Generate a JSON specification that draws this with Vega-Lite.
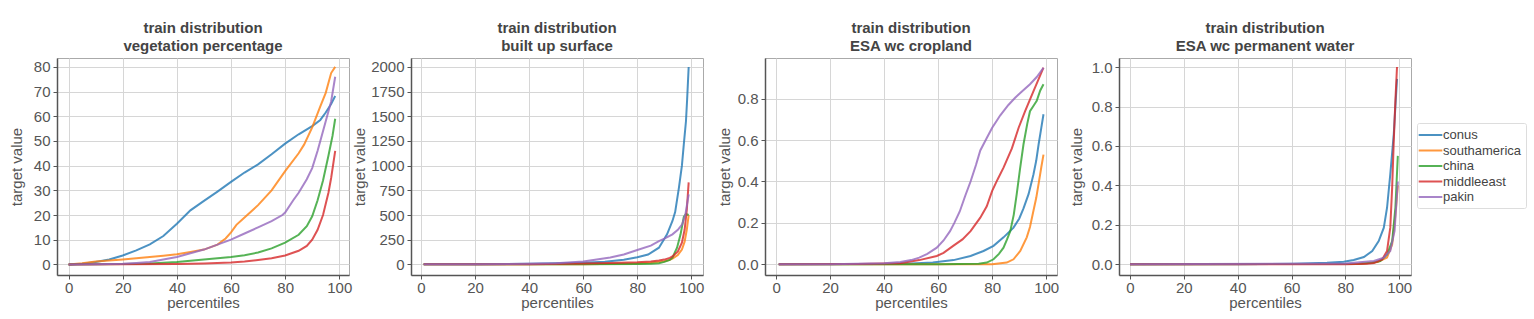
{
  "$schema": "https://vega.github.io/schema/vega-lite/v6.json",
  "padding": {"left": 8, "top": 20, "right": 5, "bottom": 5},
  "background": "white",
  "config": {
    "font": "Liberation Sans",
    "view": {"stroke": "#aaaaaa", "strokeWidth": 1},
    "axis": {
      "labelFont": "Liberation Sans", "labelFontSize": 15, "labelColor": "#555555",
      "titleFont": "Liberation Sans", "titleFontSize": 15, "titleFontWeight": "normal", "titleColor": "#555555",
      "gridColor": "#d6d6d6", "gridWidth": 1,
      "domainColor": "#555555", "domainWidth": 1.5,
      "tickColor": "#555555", "tickSize": 4, "labelPadding": 3
    },
    "axisX": {"labelPadding": 1, "titlePadding": 0.5},
    "title": {"font": "Liberation Sans", "fontSize": 15, "fontWeight": "bold", "color": "#444444", "lineHeight": 18, "offset": 4},
    "legend": {
      "labelFont": "Liberation Sans", "labelFontSize": 13, "labelColor": "#444444",
      "strokeColor": "#dddddd", "padding": 4, "cornerRadius": 2,
      "symbolType": "M-1.75,0H1.75", "symbolSize": 182, "symbolStrokeWidth": 2, "symbolOffset": 1.5,
      "rowPadding": 0.5, "labelOffset": 4.5,
      "orient": "none", "legendX": 1360, "legendY": 65
    }
  },
  "datasets": {
    "d": [
      {"g":"veg","r":"conus","p":0,"v":0},{"g":"veg","r":"conus","p":5,"v":0.3},{"g":"veg","r":"conus","p":10,"v":1},{"g":"veg","r":"conus","p":15,"v":2},{"g":"veg","r":"conus","p":20,"v":3.6},{"g":"veg","r":"conus","p":25,"v":5.7},{"g":"veg","r":"conus","p":30,"v":8.1},{"g":"veg","r":"conus","p":35,"v":11.5},{"g":"veg","r":"conus","p":40,"v":16.5},{"g":"veg","r":"conus","p":45,"v":21.9},{"g":"veg","r":"conus","p":50,"v":25.7},{"g":"veg","r":"conus","p":55,"v":29.5},{"g":"veg","r":"conus","p":60,"v":33.4},{"g":"veg","r":"conus","p":65,"v":37.2},{"g":"veg","r":"conus","p":70,"v":40.5},{"g":"veg","r":"conus","p":75,"v":44.6},{"g":"veg","r":"conus","p":80,"v":48.9},{"g":"veg","r":"conus","p":85,"v":52.7},{"g":"veg","r":"conus","p":90,"v":56},{"g":"veg","r":"conus","p":93,"v":58.5},{"g":"veg","r":"conus","p":95,"v":61.5},{"g":"veg","r":"conus","p":97,"v":65},{"g":"veg","r":"conus","p":98.5,"v":68.2},
      {"g":"veg","r":"southamerica","p":0,"v":0},{"g":"veg","r":"southamerica","p":5,"v":0.5},{"g":"veg","r":"southamerica","p":10,"v":1.2},{"g":"veg","r":"southamerica","p":15,"v":1.6},{"g":"veg","r":"southamerica","p":20,"v":2},{"g":"veg","r":"southamerica","p":25,"v":2.5},{"g":"veg","r":"southamerica","p":30,"v":3},{"g":"veg","r":"southamerica","p":35,"v":3.5},{"g":"veg","r":"southamerica","p":40,"v":4.1},{"g":"veg","r":"southamerica","p":45,"v":5},{"g":"veg","r":"southamerica","p":50,"v":6},{"g":"veg","r":"southamerica","p":55,"v":8},{"g":"veg","r":"southamerica","p":58,"v":10.5},{"g":"veg","r":"southamerica","p":60,"v":13},{"g":"veg","r":"southamerica","p":62,"v":16},{"g":"veg","r":"southamerica","p":65,"v":19},{"g":"veg","r":"southamerica","p":70,"v":24},{"g":"veg","r":"southamerica","p":75,"v":30},{"g":"veg","r":"southamerica","p":80,"v":37.8},{"g":"veg","r":"southamerica","p":85,"v":45},{"g":"veg","r":"southamerica","p":87,"v":48.5},{"g":"veg","r":"southamerica","p":90,"v":55.5},{"g":"veg","r":"southamerica","p":93,"v":64},{"g":"veg","r":"southamerica","p":95,"v":69.5},{"g":"veg","r":"southamerica","p":97,"v":77.5},{"g":"veg","r":"southamerica","p":98.5,"v":80},
      {"g":"veg","r":"china","p":0,"v":0},{"g":"veg","r":"china","p":10,"v":0.1},{"g":"veg","r":"china","p":20,"v":0.2},{"g":"veg","r":"china","p":30,"v":0.4},{"g":"veg","r":"china","p":40,"v":1},{"g":"veg","r":"china","p":50,"v":2},{"g":"veg","r":"china","p":60,"v":3},{"g":"veg","r":"china","p":65,"v":3.7},{"g":"veg","r":"china","p":70,"v":4.8},{"g":"veg","r":"china","p":75,"v":6.5},{"g":"veg","r":"china","p":80,"v":8.8},{"g":"veg","r":"china","p":85,"v":12},{"g":"veg","r":"china","p":88,"v":15.5},{"g":"veg","r":"china","p":90,"v":19.5},{"g":"veg","r":"china","p":92,"v":26},{"g":"veg","r":"china","p":94,"v":34},{"g":"veg","r":"china","p":96,"v":44},{"g":"veg","r":"china","p":97.5,"v":52},{"g":"veg","r":"china","p":98.5,"v":59},
      {"g":"veg","r":"middleeast","p":0,"v":0},{"g":"veg","r":"middleeast","p":20,"v":0.05},{"g":"veg","r":"middleeast","p":40,"v":0.2},{"g":"veg","r":"middleeast","p":50,"v":0.4},{"g":"veg","r":"middleeast","p":60,"v":0.8},{"g":"veg","r":"middleeast","p":65,"v":1.2},{"g":"veg","r":"middleeast","p":70,"v":1.8},{"g":"veg","r":"middleeast","p":75,"v":2.5},{"g":"veg","r":"middleeast","p":80,"v":3.6},{"g":"veg","r":"middleeast","p":85,"v":5.5},{"g":"veg","r":"middleeast","p":88,"v":7.5},{"g":"veg","r":"middleeast","p":90,"v":10},{"g":"veg","r":"middleeast","p":92,"v":14},{"g":"veg","r":"middleeast","p":94,"v":20},{"g":"veg","r":"middleeast","p":96,"v":29},{"g":"veg","r":"middleeast","p":97,"v":35},{"g":"veg","r":"middleeast","p":98.5,"v":46},
      {"g":"veg","r":"pakin","p":0,"v":0},{"g":"veg","r":"pakin","p":10,"v":0.1},{"g":"veg","r":"pakin","p":20,"v":0.3},{"g":"veg","r":"pakin","p":25,"v":0.6},{"g":"veg","r":"pakin","p":30,"v":1},{"g":"veg","r":"pakin","p":35,"v":2},{"g":"veg","r":"pakin","p":40,"v":3},{"g":"veg","r":"pakin","p":45,"v":4.5},{"g":"veg","r":"pakin","p":50,"v":6},{"g":"veg","r":"pakin","p":55,"v":8},{"g":"veg","r":"pakin","p":60,"v":10},{"g":"veg","r":"pakin","p":65,"v":12.5},{"g":"veg","r":"pakin","p":70,"v":15},{"g":"veg","r":"pakin","p":75,"v":17.5},{"g":"veg","r":"pakin","p":79,"v":20},{"g":"veg","r":"pakin","p":80,"v":21},{"g":"veg","r":"pakin","p":83,"v":26},{"g":"veg","r":"pakin","p":85,"v":29},{"g":"veg","r":"pakin","p":88,"v":34.5},{"g":"veg","r":"pakin","p":90,"v":39},{"g":"veg","r":"pakin","p":92,"v":46},{"g":"veg","r":"pakin","p":93,"v":50},{"g":"veg","r":"pakin","p":95,"v":58},{"g":"veg","r":"pakin","p":97,"v":66},{"g":"veg","r":"pakin","p":98.5,"v":76},

      {"g":"bu","r":"conus","p":1,"v":0},{"g":"bu","r":"conus","p":20,"v":1},{"g":"bu","r":"conus","p":40,"v":5},{"g":"bu","r":"conus","p":50,"v":10},{"g":"bu","r":"conus","p":60,"v":17},{"g":"bu","r":"conus","p":68,"v":27},{"g":"bu","r":"conus","p":75,"v":47},{"g":"bu","r":"conus","p":80,"v":72},{"g":"bu","r":"conus","p":84,"v":100},{"g":"bu","r":"conus","p":88,"v":169},{"g":"bu","r":"conus","p":91,"v":304},{"g":"bu","r":"conus","p":93,"v":440},{"g":"bu","r":"conus","p":94,"v":530},{"g":"bu","r":"conus","p":95.4,"v":777},{"g":"bu","r":"conus","p":96.5,"v":1000},{"g":"bu","r":"conus","p":97.2,"v":1216},{"g":"bu","r":"conus","p":98,"v":1450},{"g":"bu","r":"conus","p":98.4,"v":1655},{"g":"bu","r":"conus","p":99,"v":2000},
      {"g":"bu","r":"southamerica","p":1,"v":0},{"g":"bu","r":"southamerica","p":60,"v":2},{"g":"bu","r":"southamerica","p":80,"v":8},{"g":"bu","r":"southamerica","p":85,"v":15},{"g":"bu","r":"southamerica","p":88,"v":25},{"g":"bu","r":"southamerica","p":90,"v":32},{"g":"bu","r":"southamerica","p":92,"v":45},{"g":"bu","r":"southamerica","p":93,"v":58},{"g":"bu","r":"southamerica","p":95,"v":95},{"g":"bu","r":"southamerica","p":96.5,"v":150},{"g":"bu","r":"southamerica","p":97.5,"v":230},{"g":"bu","r":"southamerica","p":98.3,"v":350},{"g":"bu","r":"southamerica","p":99,"v":500},
      {"g":"bu","r":"china","p":1,"v":0},{"g":"bu","r":"china","p":60,"v":1},{"g":"bu","r":"china","p":80,"v":3},{"g":"bu","r":"china","p":85,"v":6},{"g":"bu","r":"china","p":88,"v":12},{"g":"bu","r":"china","p":90,"v":25},{"g":"bu","r":"china","p":92,"v":45},{"g":"bu","r":"china","p":93,"v":68},{"g":"bu","r":"china","p":94.7,"v":169},{"g":"bu","r":"china","p":96,"v":304},{"g":"bu","r":"china","p":97.2,"v":480},{"g":"bu","r":"china","p":98,"v":510},{"g":"bu","r":"china","p":99,"v":500},
      {"g":"bu","r":"middleeast","p":1,"v":0},{"g":"bu","r":"middleeast","p":40,"v":2},{"g":"bu","r":"middleeast","p":60,"v":8},{"g":"bu","r":"middleeast","p":70,"v":14},{"g":"bu","r":"middleeast","p":80,"v":22},{"g":"bu","r":"middleeast","p":85,"v":30},{"g":"bu","r":"middleeast","p":88,"v":38},{"g":"bu","r":"middleeast","p":90,"v":48},{"g":"bu","r":"middleeast","p":92,"v":65},{"g":"bu","r":"middleeast","p":93,"v":80},{"g":"bu","r":"middleeast","p":95,"v":130},{"g":"bu","r":"middleeast","p":96.5,"v":220},{"g":"bu","r":"middleeast","p":97.5,"v":350},{"g":"bu","r":"middleeast","p":98.3,"v":550},{"g":"bu","r":"middleeast","p":99,"v":830},
      {"g":"bu","r":"pakin","p":1,"v":0},{"g":"bu","r":"pakin","p":20,"v":1},{"g":"bu","r":"pakin","p":40,"v":5},{"g":"bu","r":"pakin","p":50,"v":12},{"g":"bu","r":"pakin","p":60,"v":30},{"g":"bu","r":"pakin","p":65,"v":50},{"g":"bu","r":"pakin","p":70,"v":70},{"g":"bu","r":"pakin","p":75,"v":100},{"g":"bu","r":"pakin","p":80,"v":145},{"g":"bu","r":"pakin","p":85,"v":190},{"g":"bu","r":"pakin","p":88,"v":236},{"g":"bu","r":"pakin","p":90,"v":260},{"g":"bu","r":"pakin","p":93,"v":304},{"g":"bu","r":"pakin","p":95,"v":350},{"g":"bu","r":"pakin","p":96.6,"v":405},{"g":"bu","r":"pakin","p":97.8,"v":507},{"g":"bu","r":"pakin","p":99,"v":709},

      {"g":"crop","r":"conus","p":1,"v":0},{"g":"crop","r":"conus","p":40,"v":0.001},{"g":"crop","r":"conus","p":50,"v":0.004},{"g":"crop","r":"conus","p":58,"v":0.008},{"g":"crop","r":"conus","p":65.7,"v":0.02},{"g":"crop","r":"conus","p":72,"v":0.04},{"g":"crop","r":"conus","p":76.8,"v":0.064},{"g":"crop","r":"conus","p":80.5,"v":0.089},{"g":"crop","r":"conus","p":84.2,"v":0.13},{"g":"crop","r":"conus","p":87.9,"v":0.177},{"g":"crop","r":"conus","p":90,"v":0.22},{"g":"crop","r":"conus","p":91.6,"v":0.27},{"g":"crop","r":"conus","p":93.5,"v":0.34},{"g":"crop","r":"conus","p":95.3,"v":0.435},{"g":"crop","r":"conus","p":96.3,"v":0.5},{"g":"crop","r":"conus","p":97.2,"v":0.58},{"g":"crop","r":"conus","p":98.2,"v":0.66},{"g":"crop","r":"conus","p":99,"v":0.725},
      {"g":"crop","r":"southamerica","p":1,"v":0},{"g":"crop","r":"southamerica","p":80,"v":0},{"g":"crop","r":"southamerica","p":85.4,"v":0.008},{"g":"crop","r":"southamerica","p":87.9,"v":0.024},{"g":"crop","r":"southamerica","p":90.4,"v":0.064},{"g":"crop","r":"southamerica","p":92.8,"v":0.13},{"g":"crop","r":"southamerica","p":94,"v":0.18},{"g":"crop","r":"southamerica","p":95.3,"v":0.26},{"g":"crop","r":"southamerica","p":96.3,"v":0.32},{"g":"crop","r":"southamerica","p":97.2,"v":0.39},{"g":"crop","r":"southamerica","p":98.2,"v":0.47},{"g":"crop","r":"southamerica","p":99,"v":0.53},
      {"g":"crop","r":"china","p":1,"v":0},{"g":"crop","r":"china","p":60,"v":0},{"g":"crop","r":"china","p":75,"v":0.002},{"g":"crop","r":"china","p":78,"v":0.008},{"g":"crop","r":"china","p":80.5,"v":0.024},{"g":"crop","r":"china","p":82.5,"v":0.05},{"g":"crop","r":"china","p":84.2,"v":0.08},{"g":"crop","r":"china","p":85.5,"v":0.12},{"g":"crop","r":"china","p":86.7,"v":0.16},{"g":"crop","r":"china","p":88,"v":0.24},{"g":"crop","r":"china","p":89.1,"v":0.34},{"g":"crop","r":"china","p":90.3,"v":0.46},{"g":"crop","r":"china","p":91.6,"v":0.58},{"g":"crop","r":"china","p":93,"v":0.68},{"g":"crop","r":"china","p":94,"v":0.74},{"g":"crop","r":"china","p":95.5,"v":0.77},{"g":"crop","r":"china","p":96.5,"v":0.79},{"g":"crop","r":"china","p":97.8,"v":0.84},{"g":"crop","r":"china","p":99,"v":0.87},
      {"g":"crop","r":"middleeast","p":1,"v":0},{"g":"crop","r":"middleeast","p":30,"v":0.001},{"g":"crop","r":"middleeast","p":40,"v":0.003},{"g":"crop","r":"middleeast","p":46,"v":0.005},{"g":"crop","r":"middleeast","p":53,"v":0.02},{"g":"crop","r":"middleeast","p":59.5,"v":0.04},{"g":"crop","r":"middleeast","p":62,"v":0.055},{"g":"crop","r":"middleeast","p":65.7,"v":0.09},{"g":"crop","r":"middleeast","p":69,"v":0.12},{"g":"crop","r":"middleeast","p":72,"v":0.16},{"g":"crop","r":"middleeast","p":75.6,"v":0.225},{"g":"crop","r":"middleeast","p":78,"v":0.28},{"g":"crop","r":"middleeast","p":80,"v":0.355},{"g":"crop","r":"middleeast","p":82,"v":0.41},{"g":"crop","r":"middleeast","p":84.2,"v":0.467},{"g":"crop","r":"middleeast","p":87.3,"v":0.56},{"g":"crop","r":"middleeast","p":89.8,"v":0.66},{"g":"crop","r":"middleeast","p":92.2,"v":0.74},{"g":"crop","r":"middleeast","p":95.3,"v":0.837},{"g":"crop","r":"middleeast","p":99,"v":0.95},
      {"g":"crop","r":"pakin","p":1,"v":0},{"g":"crop","r":"pakin","p":20,"v":0},{"g":"crop","r":"pakin","p":30,"v":0.002},{"g":"crop","r":"pakin","p":40,"v":0.005},{"g":"crop","r":"pakin","p":46,"v":0.011},{"g":"crop","r":"pakin","p":50,"v":0.02},{"g":"crop","r":"pakin","p":53,"v":0.032},{"g":"crop","r":"pakin","p":56,"v":0.05},{"g":"crop","r":"pakin","p":59.5,"v":0.08},{"g":"crop","r":"pakin","p":62,"v":0.115},{"g":"crop","r":"pakin","p":64.4,"v":0.16},{"g":"crop","r":"pakin","p":66,"v":0.2},{"g":"crop","r":"pakin","p":68,"v":0.255},{"g":"crop","r":"pakin","p":70,"v":0.33},{"g":"crop","r":"pakin","p":72,"v":0.4},{"g":"crop","r":"pakin","p":74,"v":0.48},{"g":"crop","r":"pakin","p":75.6,"v":0.55},{"g":"crop","r":"pakin","p":78,"v":0.61},{"g":"crop","r":"pakin","p":80,"v":0.66},{"g":"crop","r":"pakin","p":83,"v":0.72},{"g":"crop","r":"pakin","p":86,"v":0.77},{"g":"crop","r":"pakin","p":88.5,"v":0.805},{"g":"crop","r":"pakin","p":91,"v":0.835},{"g":"crop","r":"pakin","p":94,"v":0.87},{"g":"crop","r":"pakin","p":96.5,"v":0.905},{"g":"crop","r":"pakin","p":99,"v":0.95},

      {"g":"water","r":"conus","p":0,"v":0},{"g":"water","r":"conus","p":40,"v":0},{"g":"water","r":"conus","p":60.9,"v":0.003},{"g":"water","r":"conus","p":73.2,"v":0.008},{"g":"water","r":"conus","p":79.4,"v":0.013},{"g":"water","r":"conus","p":83.1,"v":0.022},{"g":"water","r":"conus","p":86.9,"v":0.037},{"g":"water","r":"conus","p":90,"v":0.068},{"g":"water","r":"conus","p":92.4,"v":0.118},{"g":"water","r":"conus","p":94.3,"v":0.186},{"g":"water","r":"conus","p":95.5,"v":0.287},{"g":"water","r":"conus","p":96.7,"v":0.456},{"g":"water","r":"conus","p":98,"v":0.66},{"g":"water","r":"conus","p":99.2,"v":0.94},
      {"g":"water","r":"southamerica","p":0,"v":0},{"g":"water","r":"southamerica","p":85,"v":0.002},{"g":"water","r":"southamerica","p":92,"v":0.012},{"g":"water","r":"southamerica","p":95.5,"v":0.035},{"g":"water","r":"southamerica","p":97.4,"v":0.1},{"g":"water","r":"southamerica","p":98.6,"v":0.25},{"g":"water","r":"southamerica","p":99.5,"v":0.4},
      {"g":"water","r":"china","p":0,"v":0},{"g":"water","r":"china","p":85,"v":0.003},{"g":"water","r":"china","p":90,"v":0.008},{"g":"water","r":"china","p":93,"v":0.017},{"g":"water","r":"china","p":95.5,"v":0.05},{"g":"water","r":"china","p":97.4,"v":0.118},{"g":"water","r":"china","p":98.6,"v":0.287},{"g":"water","r":"china","p":99.5,"v":0.55},
      {"g":"water","r":"middleeast","p":0,"v":0},{"g":"water","r":"middleeast","p":80,"v":0},{"g":"water","r":"middleeast","p":88,"v":0.003},{"g":"water","r":"middleeast","p":90.6,"v":0.007},{"g":"water","r":"middleeast","p":93.7,"v":0.025},{"g":"water","r":"middleeast","p":95.5,"v":0.068},{"g":"water","r":"middleeast","p":96.7,"v":0.186},{"g":"water","r":"middleeast","p":97.4,"v":0.39},{"g":"water","r":"middleeast","p":98,"v":0.625},{"g":"water","r":"middleeast","p":98.6,"v":0.83},{"g":"water","r":"middleeast","p":99.2,"v":1.0},
      {"g":"water","r":"pakin","p":0,"v":0},{"g":"water","r":"pakin","p":80,"v":0.004},{"g":"water","r":"pakin","p":90.6,"v":0.017},{"g":"water","r":"pakin","p":94.3,"v":0.034},{"g":"water","r":"pakin","p":96.7,"v":0.068},{"g":"water","r":"pakin","p":98.3,"v":0.17},{"g":"water","r":"pakin","p":99.5,"v":0.42}
    ]
  },
  "data": {"name": "d"},
  "bounds": "flush",
  "spacing": 62,
  "resolve": {"scale": {"color": "shared"}},
  "hconcat": [
    {
      "width": 292, "height": 217,
      "title": {"text": ["train distribution", "vegetation percentage"]},
      "transform": [{"filter": "datum.g === 'veg'"}],
      "mark": {"type": "line", "strokeWidth": 2, "opacity": 0.8},
      "encoding": {
        "x": {"field": "p", "type": "quantitative", "scale": {"domain": [-4.3, 103.6], "nice": false, "zero": false}, "axis": {"values": [0, 20, 40, 60, 80, 100], "title": "percentiles"}},
        "y": {"field": "v", "type": "quantitative", "scale": {"domain": [-4.3, 83.6], "nice": false, "zero": false}, "axis": {"values": [0, 10, 20, 30, 40, 50, 60, 70, 80], "title": "target value", "titlePadding": 9}},
        "color": {"field": "r", "type": "nominal", "sort": null, "scale": {"domain": ["conus", "southamerica", "china", "middleeast", "pakin"], "range": ["#1f77b4", "#ff7f0e", "#2ca02c", "#d62728", "#9467bd"]}, "legend": {"title": null}}
      }
    },
    {
      "width": 292, "height": 217,
      "title": {"text": ["train distribution", "built up surface"]},
      "transform": [{"filter": "datum.g === 'bu'"}],
      "mark": {"type": "line", "strokeWidth": 2, "opacity": 0.8},
      "encoding": {
        "x": {"field": "p", "type": "quantitative", "scale": {"domain": [-3.7, 104.3], "nice": false, "zero": false}, "axis": {"values": [0, 20, 40, 60, 80, 100], "title": "percentiles"}},
        "y": {"field": "v", "type": "quantitative", "scale": {"domain": [-108, 2091], "nice": false, "zero": false}, "axis": {"values": [0, 250, 500, 750, 1000, 1250, 1500, 1750, 2000], "format": "d", "title": "target value", "titlePadding": 3}},
        "color": {"field": "r", "type": "nominal", "sort": null, "scale": {"domain": ["conus", "southamerica", "china", "middleeast", "pakin"], "range": ["#1f77b4", "#ff7f0e", "#2ca02c", "#d62728", "#9467bd"]}, "legend": {"title": null}}
      }
    },
    {
      "width": 292, "height": 217,
      "title": {"text": ["train distribution", "ESA wc cropland"]},
      "transform": [{"filter": "datum.g === 'crop'"}],
      "mark": {"type": "line", "strokeWidth": 2, "opacity": 0.8},
      "encoding": {
        "x": {"field": "p", "type": "quantitative", "scale": {"domain": [-4.1, 104], "nice": false, "zero": false}, "axis": {"values": [0, 20, 40, 60, 80, 100], "title": "percentiles"}},
        "y": {"field": "v", "type": "quantitative", "scale": {"domain": [-0.052, 0.997], "nice": false, "zero": false}, "axis": {"values": [0, 0.2, 0.4, 0.6, 0.8], "format": ".1f", "title": "target value", "titlePadding": 5}},
        "color": {"field": "r", "type": "nominal", "sort": null, "scale": {"domain": ["conus", "southamerica", "china", "middleeast", "pakin"], "range": ["#1f77b4", "#ff7f0e", "#2ca02c", "#d62728", "#9467bd"]}, "legend": {"title": null}}
      }
    },
    {
      "width": 292, "height": 217,
      "title": {"text": ["train distribution", "ESA wc permanent water"]},
      "transform": [{"filter": "datum.g === 'water'"}],
      "mark": {"type": "line", "strokeWidth": 2, "opacity": 0.8},
      "encoding": {
        "x": {"field": "p", "type": "quantitative", "scale": {"domain": [-4.1, 104.4], "nice": false, "zero": false}, "axis": {"values": [0, 20, 40, 60, 80, 100], "title": "percentiles"}},
        "y": {"field": "v", "type": "quantitative", "scale": {"domain": [-0.054, 1.046], "nice": false, "zero": false}, "axis": {"values": [0, 0.2, 0.4, 0.6, 0.8, 1.0], "format": ".1f", "title": "target value", "titlePadding": 7}},
        "color": {"field": "r", "type": "nominal", "sort": null, "scale": {"domain": ["conus", "southamerica", "china", "middleeast", "pakin"], "range": ["#1f77b4", "#ff7f0e", "#2ca02c", "#d62728", "#9467bd"]}, "legend": {"title": null}}
      }
    }
  ]
}
